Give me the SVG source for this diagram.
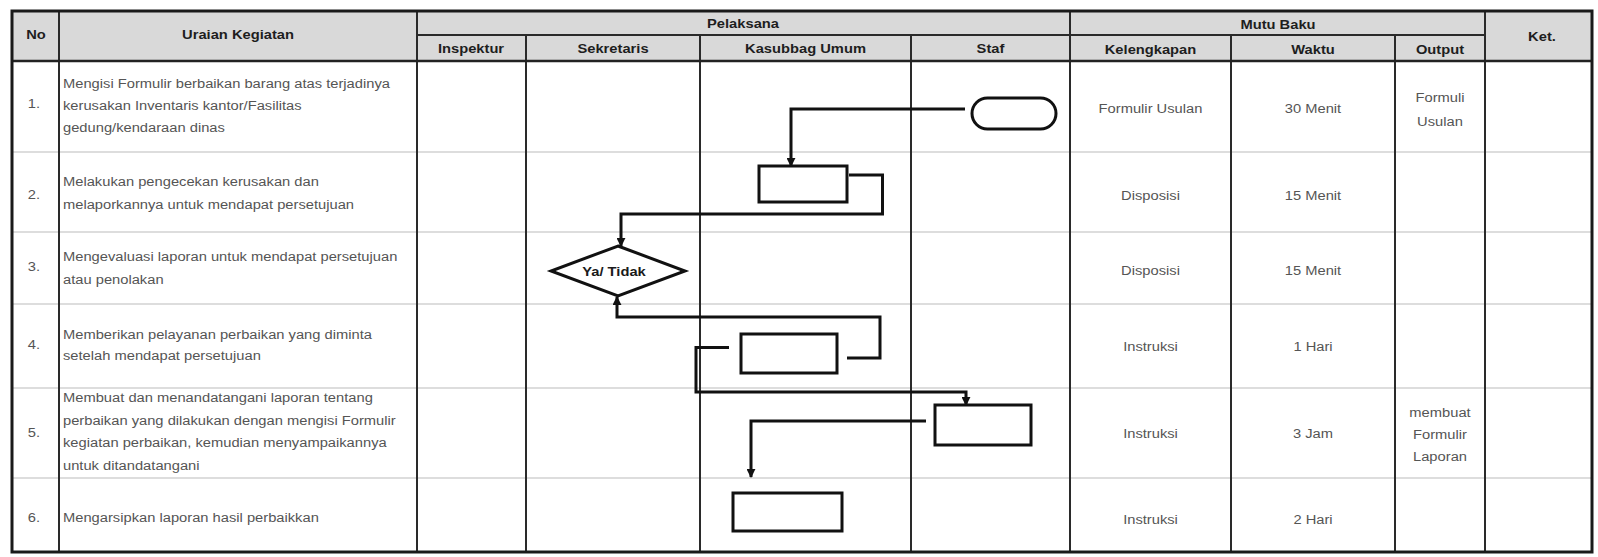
<svg xmlns="http://www.w3.org/2000/svg" width="1598" height="557" viewBox="0 0 1598 557">
  <defs>
    <marker id="arrow" viewBox="0 0 10 10" refX="9" refY="5" markerWidth="3" markerHeight="3" orient="auto" markerUnits="strokeWidth">
      <path d="M0,0 L10,5 L0,10 z" fill="#111"/>
    </marker>
  </defs>
  <style>
    .grid{stroke:#2a2a2a;stroke-width:2;fill:none}
    .border{stroke:#1a1a1a;stroke-width:3;fill:none}
    .rowline{stroke:#d2d2d2;stroke-width:1.5}
    .hd{font-family:"Liberation Sans",Arial,sans-serif;font-size:13.5px;font-weight:bold;fill:#1e1e1e;text-anchor:middle}
    .tx{font-family:"Liberation Sans",Arial,sans-serif;font-size:13.5px;fill:#555}
    .c{text-anchor:middle}
    .shape{fill:#fff;stroke:#111;stroke-width:3}
    .lbl{font-family:"Liberation Sans",Arial,sans-serif;font-size:13.5px;font-weight:bold;fill:#1a1a1a;text-anchor:middle}
    .conn{fill:none;stroke:#111;stroke-width:3;stroke-linejoin:miter}
  </style>

  <rect x="0" y="0" width="1598" height="557" fill="#fff"/>

  <!-- table frame -->
  <g id="table">
    <rect x="12" y="11" width="1580" height="50" fill="#d9d9d9"/>
    <g class="rowlines">
      <line class="rowline" x1="12" y1="152" x2="1592" y2="152"/>
      <line class="rowline" x1="12" y1="232" x2="1592" y2="232"/>
      <line class="rowline" x1="12" y1="304" x2="1592" y2="304"/>
      <line class="rowline" x1="12" y1="388" x2="1592" y2="388"/>
      <line class="rowline" x1="12" y1="478" x2="1592" y2="478"/>
    </g>
    <path class="grid" d="M59,11 V552 M417,11 V552 M1070,11 V552 M1485,11 V552
      M526,35 V552 M700,35 V552 M911,35 V552 M1231,35 V552 M1395,35 V552
      M417,35 H1485"/>
    <line x1="12" y1="61" x2="1592" y2="61" stroke="#222" stroke-width="2.5"/>
    <rect class="border" x="12" y="11" width="1580" height="541"/>
  </g>

  <!-- header labels -->
  <g id="header">
    <text class="hd" transform="translate(36,38.5) scale(1.09,1)">No</text>
    <text class="hd" transform="translate(238,38.5) scale(1.09,1)">Uraian Kegiatan</text>
    <text class="hd" transform="translate(743,27.5) scale(1.09,1)">Pelaksana</text>
    <text class="hd" transform="translate(1278,28.5) scale(1.09,1)">Mutu Baku</text>
    <text class="hd" transform="translate(1542,41) scale(1.09,1)">Ket.</text>
    <text class="hd" transform="translate(471,53) scale(1.09,1)">Inspektur</text>
    <text class="hd" transform="translate(613,53) scale(1.09,1)">Sekretaris</text>
    <text class="hd" transform="translate(805.5,53) scale(1.09,1)">Kasubbag Umum</text>
    <text class="hd" transform="translate(990.5,53) scale(1.09,1)">Staf</text>
    <text class="hd" transform="translate(1150.5,54) scale(1.09,1)">Kelengkapan</text>
    <text class="hd" transform="translate(1313,54) scale(1.09,1)">Waktu</text>
    <text class="hd" transform="translate(1440,54) scale(1.09,1)">Output</text>
  </g>

  <!-- row numbers and activity descriptions -->
  <g id="rows">
    <text class="tx c" transform="translate(34,108) scale(1.09,1)">1.</text>
    <text class="tx" transform="translate(63,88) scale(1.09,1)">Mengisi Formulir berbaikan barang atas terjadinya</text>
    <text class="tx" transform="translate(63,110) scale(1.09,1)">kerusakan Inventaris kantor/Fasilitas</text>
    <text class="tx" transform="translate(63,132) scale(1.09,1)">gedung/kendaraan dinas</text>

    <text class="tx c" transform="translate(34,198.5) scale(1.09,1)">2.</text>
    <text class="tx" transform="translate(63,185.5) scale(1.09,1)">Melakukan pengecekan kerusakan dan</text>
    <text class="tx" transform="translate(63,208.5) scale(1.09,1)">melaporkannya untuk mendapat persetujuan</text>

    <text class="tx c" transform="translate(34,270.5) scale(1.09,1)">3.</text>
    <text class="tx" transform="translate(63,261) scale(1.09,1)">Mengevaluasi laporan untuk mendapat persetujuan</text>
    <text class="tx" transform="translate(63,283.5) scale(1.09,1)">atau penolakan</text>

    <text class="tx c" transform="translate(34,348.5) scale(1.09,1)">4.</text>
    <text class="tx" transform="translate(63,338.5) scale(1.09,1)">Memberikan pelayanan perbaikan yang diminta</text>
    <text class="tx" transform="translate(63,359.5) scale(1.09,1)">setelah mendapat persetujuan</text>

    <text class="tx c" transform="translate(34,436.5) scale(1.09,1)">5.</text>
    <text class="tx" transform="translate(63,402) scale(1.09,1)">Membuat dan menandatangani laporan tentang</text>
    <text class="tx" transform="translate(63,424.5) scale(1.09,1)">perbaikan yang dilakukan dengan mengisi Formulir</text>
    <text class="tx" transform="translate(63,447) scale(1.09,1)">kegiatan perbaikan, kemudian menyampaikannya</text>
    <text class="tx" transform="translate(63,469.5) scale(1.09,1)">untuk ditandatangani</text>

    <text class="tx c" transform="translate(34,521.5) scale(1.09,1)">6.</text>
    <text class="tx" transform="translate(63,521.5) scale(1.09,1)">Mengarsipkan laporan hasil perbaikkan</text>
  </g>

  <!-- quality standard columns -->
  <g id="mutu-baku">
    <text class="tx c" transform="translate(1150.5,112.5) scale(1.09,1)">Formulir Usulan</text>
    <text class="tx c" transform="translate(1313,112.5) scale(1.09,1)">30 Menit</text>
    <text class="tx c" transform="translate(1440,101.5) scale(1.09,1)">Formuli</text>
    <text class="tx c" transform="translate(1440,125.5) scale(1.09,1)">Usulan</text>

    <text class="tx c" transform="translate(1150.5,199.5) scale(1.09,1)">Disposisi</text>
    <text class="tx c" transform="translate(1313,199.5) scale(1.09,1)">15 Menit</text>

    <text class="tx c" transform="translate(1150.5,274.5) scale(1.09,1)">Disposisi</text>
    <text class="tx c" transform="translate(1313,274.5) scale(1.09,1)">15 Menit</text>

    <text class="tx c" transform="translate(1150.5,350.5) scale(1.09,1)">Instruksi</text>
    <text class="tx c" transform="translate(1313,350.5) scale(1.09,1)">1 Hari</text>

    <text class="tx c" transform="translate(1150.5,437.5) scale(1.09,1)">Instruksi</text>
    <text class="tx c" transform="translate(1313,437.5) scale(1.09,1)">3 Jam</text>
    <text class="tx c" transform="translate(1440,416.5) scale(1.09,1)">membuat</text>
    <text class="tx c" transform="translate(1440,438.5) scale(1.09,1)">Formulir</text>
    <text class="tx c" transform="translate(1440,460.5) scale(1.09,1)">Laporan</text>

    <text class="tx c" transform="translate(1150.5,523.5) scale(1.09,1)">Instruksi</text>
    <text class="tx c" transform="translate(1313,523.5) scale(1.09,1)">2 Hari</text>
  </g>

  <!-- flow connectors -->
  <g id="connectors">
    <path class="conn" d="M965,109 H791 V166" marker-end="url(#arrow)"/>
    <path class="conn" d="M849,175 H882.5 V214 H621 V246" marker-end="url(#arrow)"/>
    <path class="conn" d="M847,358 H880 V317 H617 V297" marker-end="url(#arrow)"/>
    <path class="conn" d="M729,347.5 H696 V392 H966 V405" marker-end="url(#arrow)"/>
    <path class="conn" d="M926,421 H751 V477" marker-end="url(#arrow)"/>
  </g>

  <!-- flow nodes -->
  <g id="start">
    <rect class="shape" x="972" y="98" width="84" height="31" rx="15.5"/>
  </g>
  <g id="check">
    <rect class="shape" x="759" y="166" width="88" height="36"/>
  </g>
  <g id="decision">
    <polygon class="shape" points="618,246 685,271 618,296 551,271"/>
    <text class="lbl" transform="translate(614,275.5) scale(1.09,1)">Ya/ Tidak</text>
  </g>
  <g id="repair">
    <rect class="shape" x="741" y="334" width="96" height="39"/>
  </g>
  <g id="report">
    <rect class="shape" x="935" y="405" width="96" height="40"/>
  </g>
  <g id="archive">
    <rect class="shape" x="733" y="493" width="109" height="38"/>
  </g>
</svg>
